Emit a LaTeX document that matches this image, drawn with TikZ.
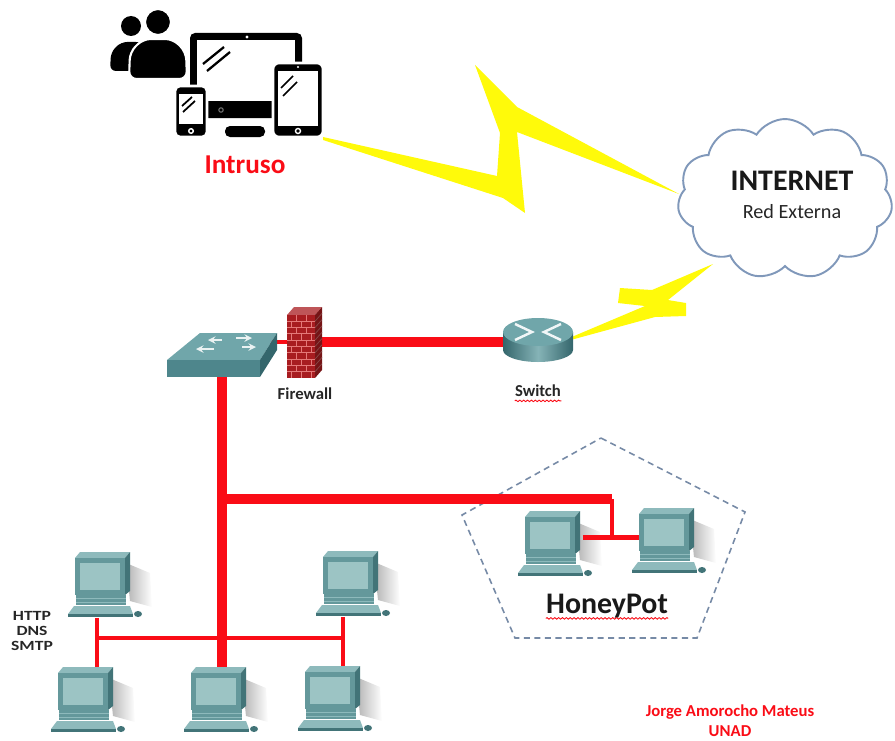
\documentclass[tikz,border=0pt]{standalone}
\usepackage{fontspec}
\setmainfont{Carlito}
\newfontfamily\widefont{Carlito}[FakeStretch=1.25]
\usetikzlibrary{positioning,shapes.symbols,decorations.pathmorphing}

\definecolor{netred}{RGB}{250,12,22}
\definecolor{boltyellow}{RGB}{255,250,10}
\definecolor{cloudline}{RGB}{128,152,186}
\definecolor{dashgrey}{RGB}{118,138,166}
\definecolor{tealtop}{RGB}{112,166,170}
\definecolor{tealfront}{RGB}{78,134,140}
\definecolor{tealside}{RGB}{52,102,108}
\definecolor{pctop}{RGB}{142,186,188}
\definecolor{pcfront}{RGB}{100,152,155}
\definecolor{pcside}{RGB}{66,116,120}
\definecolor{pcscreen}{RGB}{156,196,196}
\definecolor{brick}{RGB}{168,28,32}
\definecolor{mortar}{RGB}{228,120,120}

% desktop PC icon, drawn round the centre of a pc node
\newcommand{\pcdraw}[1]{%
  \begin{scope}[shift={(#1.center)}]
    \shade[left color=black!30, right color=white] (26,-22) -- (50,-12) -- (52,22) -- (30,16) -- cycle;
    \fill[pctop] (-25,-27) -- (-20,-33) -- (30,-33) -- (25,-27) -- cycle;
    \fill[pcside] (25,-27) -- (30,-33) -- (30,6) -- (25,10) -- cycle;
    \fill[pcfront] (-25,-27) rectangle (25,10);
    \fill[pcscreen] (-20,-22) rectangle (20,5);
    \fill[pcfront] (-24,10) rectangle (26,20);
    \draw[pctop, line width=0.5pt] (-24,13.5) -- (26,13.5) (-24,17) -- (26,17);
    \fill[pctop] (-32,29) -- (-26,21) -- (30,21) -- (33,29) -- cycle;
    \fill[pcside] (-32,29) rectangle (33,32);
    \fill[pcside] (38,29) ellipse [x radius=4, y radius=3];
  \end{scope}}

\begin{document}
\begin{tikzpicture}
[
x=0.02cm, y=-0.02cm,
pc/.style={minimum width=1.3cm, minimum height=1.3cm, inner sep=0pt},
cable/.style={draw=netred, line width=2.8pt},
trunk/.style={draw=netred, line width=6.2pt},
branch/.style={draw=netred, line width=5.2pt},
uplink/.style={draw=netred, line width=5.6pt},
bolt/.style={fill=boltyellow},
hp-zone/.style={draw=dashgrey, line width=0.9pt, dash pattern=on 3.5pt off 2.5pt},
text-a/.style={font=\bfseries\fontsize{9.5}{11}\selectfont, text=black!85, inner sep=0pt},
text-b/.style={font=\bfseries\fontsize{9.5}{11.3}\selectfont, text=netred, inner sep=0pt, align=center},
squiggle/.style={draw=netred, line width=0.5pt, decorate, decoration={snake, amplitude=0.45pt, segment length=2.2pt}}
]
\useasboundingbox (0,0) rectangle (895,740);

% intruder: people + devices
\node (intruder) [minimum width=2.96cm, minimum height=2.08cm, inner sep=0pt] at (249,85) {};
\fill[black] (131,26) circle [radius=10];
\fill[black, rounded corners=0.12cm] (110,71) -- (111,52) -- (121,42) -- (142,42) -- (150,52) -- (150,71) -- cycle;
\filldraw[black, draw=white, line width=1.2pt] (158,22) circle [radius=13];
\filldraw[black, draw=white, line width=1.2pt, rounded corners=0.15cm] (129,79) -- (130,52) -- (143,39) -- (173,39) -- (186,52) -- (187,79) -- cycle;
\fill[black, rounded corners=0.1cm] (190,33) rectangle (302,118);
\fill[white] (197,40) rectangle (295,101);
\fill[white] (247,37) circle [radius=1.6];
\draw[black, line width=1.3pt] (203,64) -- (224,47) (207,71) -- (230,52);
\draw[black!55, line width=0.6pt] (221,110) circle [radius=2.2];
\fill[black, rounded corners=0.1cm] (225,126) rectangle (265,137);
\filldraw[black, draw=white, line width=1.5pt, rounded corners=0.1cm] (175,86) rectangle (207,137);
\fill[white] (179,94) rectangle (203,124);
\draw[black, line width=1pt] (182,106) -- (192,97) (183,112) -- (195,101);
\draw[white, line width=0.8pt] (191,131) circle [radius=2.3];
\filldraw[black, draw=white, line width=1.5pt, rounded corners=0.12cm] (273,63) rectangle (323,137);
\fill[white] (278,71) rectangle (318,126);
\draw[black, line width=1pt] (281,88) -- (293,76) (283,96) -- (297,82);
\fill[white] (298,67) circle [radius=1.2];
\draw[white, line width=0.8pt] (298,131) circle [radius=2.5];
\node (intruso) [text-b, font=\bfseries\fontsize{15.5}{18}\selectfont, below=0.36cm of intruder, xshift=-0.08cm] {Intruso};

% wireless links
\fill[bolt] (323,137) -- (497,176) -- (500,133) -- (475,65) -- (517,107) -- (679,194)
            -- (517,132) -- (525,213) -- (503,198) -- (323,140) -- cycle;
\fill[bolt] (567,339) -- (645,306) -- (618,303) -- (620,288) -- (652,290) -- (713,264)
            -- (668,300) -- (686,303) -- (686,316) -- (655,317) -- (567,341) -- cycle;

% internet
\node (cloud) [cloud, cloud puffs=11, cloud puff arc=115, aspect=1.4, draw=cloudline, fill=white,
               line width=1.1pt, minimum width=4.3cm, minimum height=3.2cm, inner sep=0pt] at (785,199) {};
\node (inet)    [font=\bfseries\fontsize{17}{20}\selectfont, text=black!90, inner sep=0pt] at (792,181) {INTERNET};
\node (red-ext) [font=\fontsize{11.5}{13}\selectfont, text=black!85, inner sep=0pt, below=0.26cm of inet] {Red Externa};

% honeypot zone
\draw[hp-zone] (601,438) -- (745,512) -- (697,638) -- (515,638) -- (462,515) -- cycle;

% devices
\node (switch)   [minimum width=2.2cm, minimum height=0.88cm, inner sep=0pt] at (222,355) {};
\node (firewall) [minimum width=0.7cm, minimum height=1.42cm, inner sep=0pt] at (305,342) {};
\node (router)   [minimum width=1.4cm, minimum height=0.94cm, inner sep=0pt] at (538,344) {};

\node (pc-1) [pc] at (100,585) {};
\node (pc-2) [pc] at (348,584) {};
\node (pc-3) [pc] at (83,700) {};
\node (pc-4) [pc] at (216,700) {};
\node (pc-5) [pc] at (330,699) {};
\node (hp-1) [pc] at (550,544) {};
\node (hp-2) [pc] at (664,541) {};
\foreach \n in {pc-1,pc-2,pc-3,pc-4,pc-5,hp-1,hp-2}
  \pcdraw{\n};

% cabling
\coordinate (bus) at (0,638);
\coordinate (drop-l) at ([xshift=-0.06cm]pc-1.south);
\coordinate (drop-r) at ([xshift=-0.1cm]pc-2.south);
\coordinate (hp-tap) at (612,499);
\coordinate (hp-link) at ([yshift=0.13cm]hp-1.east);
\draw[cable] (switch.center |- firewall.center) -- (firewall.center);
\draw[uplink] (firewall.center) -- (router.center |- firewall.center);
\draw[trunk] (switch.south) -- (switch.south |- pc-4.north);
\draw[cable] (drop-l) -- (drop-l |- pc-3.north);
\draw[cable] (drop-r) -- (drop-r |- pc-5.north);
\draw[cable] (drop-l |- bus) -- (drop-r |- bus);
\draw[branch] (switch.south |- hp-tap) -- (hp-tap);
\draw[cable] (hp-tap) -- (hp-tap |- hp-link);
\draw[cable] (hp-link) -- ([xshift=0.15cm]hp-link -| hp-2.west);

% switch
\begin{scope}[shift={(switch.center)}]
  \fill[tealtop] (-22,-22) -- (55,-22) -- (38,5) -- (-55,5) -- cycle;
  \fill[tealfront] (-55,5) rectangle (38,22);
  \fill[tealside] (38,5) -- (55,-22) -- (55,-5) -- (38,22) -- cycle;
  \foreach \xa/\xb/\y in {0/-14/-15, 14/30/-17, -8/-26/-6, 20/34/-8}
    \draw[white!85!tealtop, line width=0.9pt, ->, >=stealth] (\xa,\y) -- (\xb,\y);
\end{scope}

% firewall
\begin{scope}[shift={(firewall.center)}]
  \fill[brick!75!white] (-18,-27) -- (-11,-35) -- (17,-35) -- (10,-27) -- cycle;
  \fill[brick!70!black] (10,-27) -- (17,-35) -- (17,28) -- (10,36) -- cycle;
  \fill[brick] (-18,-27) rectangle (10,36);
  \foreach \r in {1,...,9}
    \draw[mortar, line width=0.5pt] (-18,-27+\r*6.3) -- (10,-27+\r*6.3);
  \foreach \r in {0,2,...,8}
    \draw[mortar, line width=0.5pt] (-9,-27+\r*6.3) -- ++(0,6.3) (1,-27+\r*6.3) -- ++(0,6.3);
  \foreach \r in {1,3,...,9}
    \draw[mortar, line width=0.5pt] (-14,-27+\r*6.3) -- ++(0,6.3) (-4,-27+\r*6.3) -- ++(0,6.3) (6,-27+\r*6.3) -- ++(0,6.3);
  \foreach \r in {1,...,9}
    \draw[mortar!60!black, line width=0.4pt] (10,-27+\r*6.3) -- ++(7,-8);
\end{scope}

% router
\begin{scope}[shift={(router.center)}]
  \shade[left color=tealside, right color=tealside, middle color=tealtop!85!white]
    (-35,-12) -- (-35,6) arc [start angle=180, end angle=0, x radius=35, y radius=12] -- (35,-12) -- cycle;
  \fill[tealtop] (0,-12) ellipse [x radius=35, y radius=14];
  \draw[white!90!tealtop, line width=1.4pt] (-23,-20) -- (-6,-12) -- (-23,-4) (23,-20) -- (6,-12) -- (23,-4);
\end{scope}

% labels
\node (fw-lbl) [text-a, below=0.19cm of firewall] {Firewall};
\node (rt-lbl) [text-a, below=0.33cm of router] {Switch};
\draw[squiggle] ([yshift=-0.08cm]rt-lbl.south west) -- ([yshift=-0.08cm]rt-lbl.south east);
\node (proto) [font=\widefont\bfseries\fontsize{8}{8.5}\selectfont, text=black!85, inner sep=0pt, align=center] at (32,631) {HTTP\\DNS\\SMTP};
\node (hp-lbl) [font=\bfseries\fontsize{17}{20}\selectfont, text=black!90, inner sep=0pt] at (607,606) {HoneyPot};
\draw[squiggle] (hp-lbl.south west) -- (hp-lbl.south east);
\node (author) [text-b] at (730,721) {Jorge Amorocho Mateus\\UNAD};

\end{tikzpicture}
\end{document}
